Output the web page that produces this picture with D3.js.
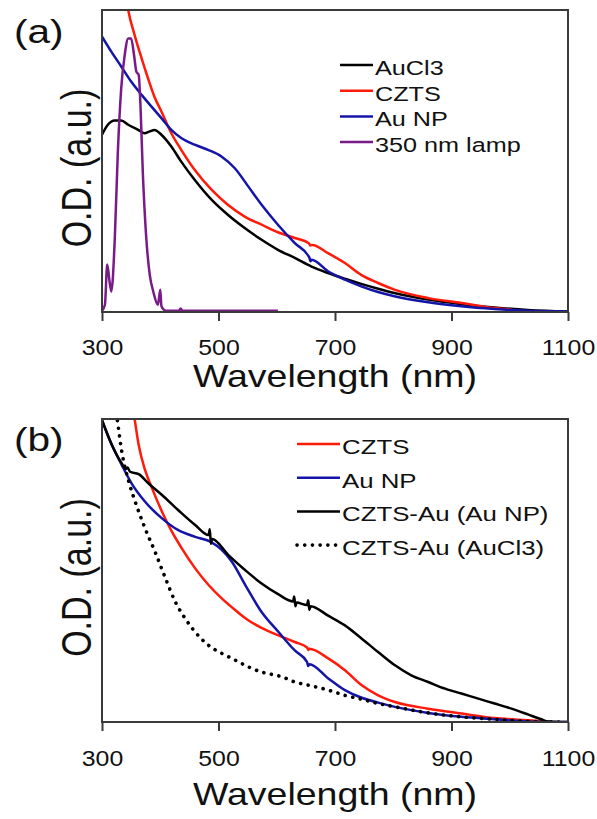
<!DOCTYPE html>
<html>
<head>
<meta charset="utf-8">
<script src="https://cdn.jsdelivr.net/npm/d3@7"></script>
<style>
  body { margin: 0; background: #fff; }
  text { font-family: "Liberation Sans", Arial, sans-serif; fill: #111; }
</style>
</head>
<body>
<div id="chart-area"></div>
<script>
// tick labels, shared by both panels
var xTicks = [300, 500, 700, 900, 1100];

// panel (a) spectra  [wavelength nm, O.D. normalised]
var aAuCl3 = [[300,0.587],[310,0.620],[322,0.634],[333,0.634],[345,0.620],[362,0.603],[373,0.592],[382,0.598],[390,0.603],[402,0.587],[419,0.548],[436,0.498],[459,0.438],[488,0.372],[516,0.322],[545,0.278],[574,0.239],[602,0.206],[631,0.179],[659,0.151],[688,0.129],[717,0.110],[745,0.093],[774,0.077],[802,0.063],[860,0.041],[917,0.026],[974,0.015],[1031,0.007],[1100,0.002]];
var aCZTS = [[338,1.09],[345,1.0],[356,0.917],[368,0.840],[379,0.774],[390,0.713],[402,0.664],[419,0.592],[436,0.537],[459,0.471],[488,0.405],[516,0.355],[545,0.316],[574,0.289],[602,0.264],[631,0.245],[655,0.228],[658,0.220],[661,0.222],[688,0.195],[717,0.162],[745,0.123],[774,0.096],[802,0.074],[860,0.046],[917,0.030],[974,0.013],[1003,0.008]];
var aAuNP = [[300,0.912],[316,0.862],[333,0.813],[350,0.763],[368,0.719],[385,0.680],[402,0.642],[419,0.603],[436,0.576],[459,0.554],[482,0.537],[505,0.515],[528,0.476],[551,0.416],[574,0.355],[602,0.289],[631,0.228],[656,0.180],[658,0.168],[660,0.173],[688,0.135],[717,0.107],[745,0.085],[774,0.066],[802,0.052],[860,0.032],[917,0.019],[974,0.010],[1031,0.004],[1100,0.002]];
var aLamp = [[300,0.004],[305,0.024],[309,0.157],[313,0.101],[316,0.068],[322,0.245],[327,0.520],[333,0.741],[339,0.851],[345,0.906],[350,0.906],[355,0.851],[359,0.796],[363,0.785],[366,0.686],[370,0.465],[376,0.245],[382,0.123],[388,0.068],[396,0.024],[400,0.074],[402,0.020],[405,0.010],[410,0.004],[432,0.004],[435,0.012],[438,0.004],[602,0.004]];

// panel (b) spectra
var bCZTS = [[352,1.05],[356,1.0],[363,0.914],[374,0.831],[386,0.771],[403,0.694],[420,0.628],[437,0.573],[460,0.507],[483,0.452],[506,0.407],[529,0.369],[551,0.336],[574,0.311],[603,0.286],[631,0.264],[652,0.246],[654,0.238],[656,0.242],[689,0.209],[717,0.171],[746,0.121],[774,0.088],[803,0.066],[860,0.044],[917,0.028],[974,0.013],[1031,0.006],[1066,0.002]];
var bAuNP = [[300,0.995],[317,0.914],[334,0.848],[351,0.787],[374,0.727],[403,0.672],[431,0.633],[460,0.611],[486,0.595],[506,0.567],[523,0.529],[546,0.452],[574,0.363],[603,0.297],[631,0.236],[652,0.198],[654,0.185],[656,0.191],[689,0.143],[717,0.105],[746,0.080],[774,0.064],[803,0.050],[860,0.030],[917,0.017],[974,0.009],[1031,0.002],[1100,0.0]];
var bCZTSAuNP = [[300,0.997],[317,0.914],[334,0.853],[341,0.835],[344,0.840],[348,0.826],[363,0.818],[380,0.787],[403,0.749],[431,0.699],[460,0.650],[483,0.617],[485,0.636],[487,0.588],[489,0.604],[517,0.551],[546,0.501],[574,0.457],[603,0.421],[628,0.398],[630,0.414],[632,0.382],[634,0.394],[652,0.386],[654,0.402],[656,0.370],[658,0.382],[689,0.350],[717,0.319],[746,0.275],[774,0.231],[803,0.187],[831,0.154],[860,0.132],[889,0.110],[917,0.094],[946,0.077],[974,0.061],[1003,0.044],[1031,0.025],[1054,0.009],[1066,0.002],[1100,0.0]];
var bCZTSAuCl3 = [[320,1.07],[326,1.0],[334,0.892],[346,0.793],[357,0.727],[374,0.639],[391,0.562],[409,0.474],[426,0.396],[443,0.341],[460,0.297],[483,0.253],[506,0.226],[529,0.204],[551,0.182],[574,0.165],[609,0.149],[631,0.132],[660,0.119],[689,0.105],[717,0.088],[746,0.075],[774,0.061],[803,0.050],[860,0.030],[917,0.017],[974,0.009],[1031,0.002],[1089,0.0]];

var legendA = ["AuCl3", "CZTS", "Au NP", "350 nm lamp"];
var legendB = ["CZTS", "Au NP", "CZTS-Au (Au NP)", "CZTS-Au (AuCl3)"];

var BLACK = "#000000", RED = "#ff1a0a", BLUE = "#1414a8", PURPLE = "#7a1a88";
var SX = 1.23; // the figure text is stretched horizontally

var svg = d3.select("#chart-area")
    .append("svg")
    .attr("width", 597)
    .attr("height", 819);

function drawPanel(cfg) {
    var x = d3.scaleLinear().domain([300, 1100]).range([102, 568]);
    var y = d3.scaleLinear().domain([0, 1]).range([cfg.bottom, cfg.top]);

    var g = svg.append("g");
    var clipId = "clip-" + cfg.name;
    g.append("clipPath").attr("id", clipId)
        .append("rect")
        .attr("x", 102).attr("y", cfg.top)
        .attr("width", 466).attr("height", cfg.bottom - cfg.top);

    var line = d3.line()
        .x(function (d) { return x(d[0]); })
        .y(function (d) { return y(d[1]); })
        .curve(d3.curveMonotoneX);

    var lines = g.append("g").attr("clip-path", "url(#" + clipId + ")");
    cfg.series.forEach(function (s) {
        lines.append("path")
            .datum(s.data)
            .attr("fill", "none")
            .attr("stroke", s.color)
            .attr("stroke-width", s.dotted ? 3.6 : 2.5)
            .attr("stroke-linecap", s.dotted ? "round" : "butt")
            .attr("stroke-linejoin", "round")
            .attr("stroke-dasharray", s.dotted ? "0.1 7.6" : null)
            .attr("d", line);
    });

    // frame
    g.append("rect")
        .attr("x", 102).attr("y", cfg.top)
        .attr("width", 466).attr("height", cfg.bottom - cfg.top)
        .attr("fill", "none").attr("stroke", "#3a3a3a").attr("stroke-width", 2);

    // bottom axis
    var axis = g.append("g")
        .attr("transform", "translate(0," + cfg.bottom + ")")
        .call(d3.axisBottom(x).tickValues(xTicks).tickSize(9).tickSizeOuter(0).tickFormat(d3.format("d")));
    axis.select(".domain").remove();
    axis.selectAll(".tick line").attr("stroke", "#3a3a3a").attr("stroke-width", 2);
    axis.selectAll(".tick text")
        .attr("y", 0).attr("dy", null)
        .attr("font-size", 22)
        .attr("font-family", "Liberation Sans, Arial, sans-serif")
        .attr("transform", "translate(0," + cfg.tickBase + ") scale(1.13,1)");

    // axis titles
    g.append("text")
        .attr("transform", "translate(335," + cfg.xTitleBase + ") scale(" + SX + ",1)")
        .attr("text-anchor", "middle")
        .attr("font-size", 30.5)
        .text("Wavelength (nm)");
    g.append("text")
        .attr("transform", "translate(91," + ((cfg.top + cfg.bottom) / 2 + 7) + ") scale(" + SX + ",1) rotate(-90)")
        .attr("text-anchor", "middle")
        .attr("font-size", 34)
        .text("O.D. (a.u.)");
    g.append("text")
        .attr("transform", "translate(14," + cfg.tagBase + ") scale(" + SX + ",1)")
        .attr("font-size", 33)
        .text(cfg.tag);

    // legend
    var leg = g.selectAll(".leg").data(cfg.series).enter().append("g")
        .attr("transform", function (d, i) { return "translate(0," + (cfg.legTop + i * cfg.legStep) + ")"; });
    leg.append("line")
        .attr("x1", cfg.legX1).attr("x2", cfg.legX2).attr("y1", 0).attr("y2", 0)
        .attr("stroke", function (d) { return d.color; })
        .attr("stroke-width", function (d) { return d.dotted ? 3.6 : 2.5; })
        .attr("stroke-linecap", function (d) { return d.dotted ? "round" : "butt"; })
        .attr("stroke-dasharray", function (d) { return d.dotted ? "0.1 7.6" : null; });
    leg.append("text")
        .attr("transform", "translate(" + (cfg.legX2 + 2) + ",10) scale(" + SX + ",1)")
        .attr("font-size", cfg.legFont)
        .text(function (d) { return d.label; });
}

drawPanel({
    name: "a", tag: "(a)", top: 10, bottom: 312,
    tickBase: 43, xTitleBase: 387, tagBase: 43,
    legTop: 65, legStep: 25.7, legX1: 340, legX2: 373, legFont: 20.5,
    series: [
        { label: legendA[0], data: aAuCl3, color: BLACK },
        { label: legendA[1], data: aCZTS, color: RED },
        { label: legendA[2], data: aAuNP, color: BLUE },
        { label: legendA[3], data: aLamp, color: PURPLE }
    ]
});

drawPanel({
    name: "b", tag: "(b)", top: 419, bottom: 722,
    tickBase: 44, xTitleBase: 805, tagBase: 451,
    legTop: 444, legStep: 33.7, legX1: 297, legX2: 340, legFont: 21,
    series: [
        { label: legendB[0], data: bCZTS, color: RED },
        { label: legendB[1], data: bAuNP, color: BLUE },
        { label: legendB[2], data: bCZTSAuNP, color: BLACK },
        { label: legendB[3], data: bCZTSAuCl3, color: BLACK, dotted: true }
    ]
});
</script>
</body>
</html>
